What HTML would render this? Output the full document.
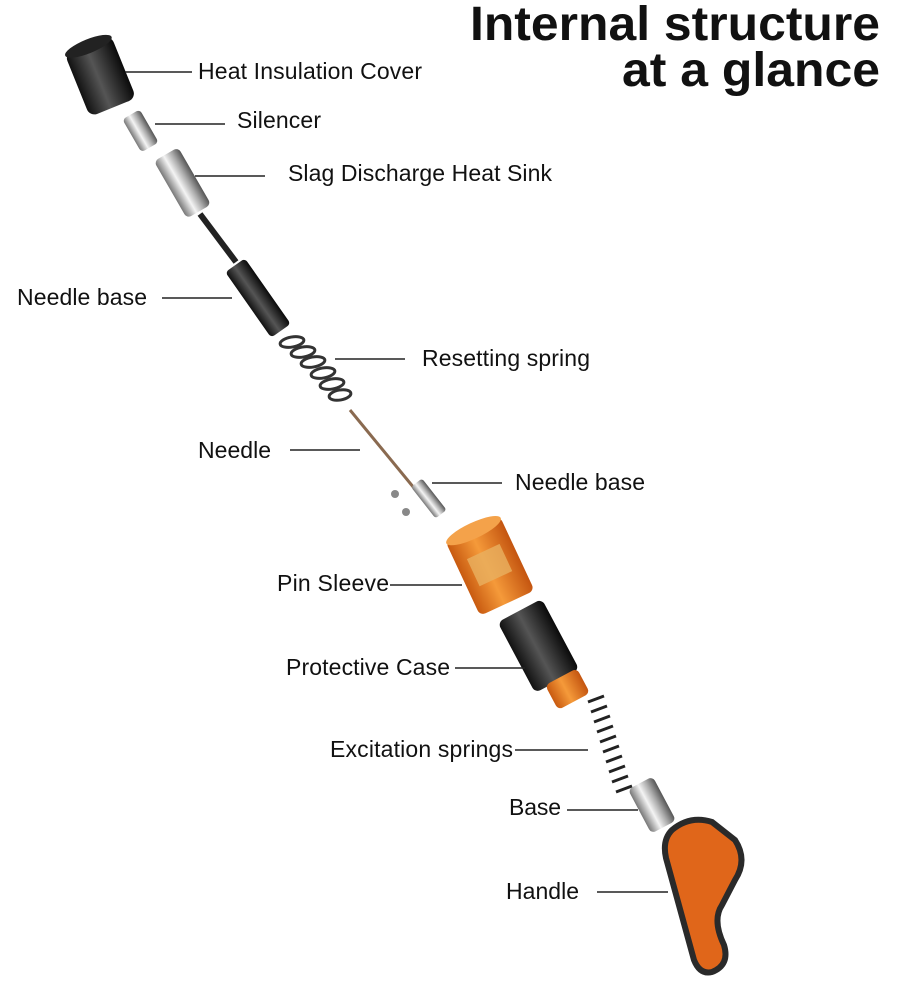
<!DOCTYPE html>
<html><head><meta charset="utf-8"><style>
html,body{margin:0;padding:0;background:#fff;width:900px;height:1000px;overflow:hidden}
svg text{font-family:"Liberation Sans",Arial,sans-serif}
</style></head><body>
<svg width="900" height="1000" viewBox="0 0 900 1000" xmlns="http://www.w3.org/2000/svg">
<defs>
<linearGradient id="blk" x1="0" x2="1"><stop offset="0" stop-color="#111"/><stop offset=".45" stop-color="#555"/><stop offset="1" stop-color="#0a0a0a"/></linearGradient>
<linearGradient id="slv" x1="0" x2="1"><stop offset="0" stop-color="#777"/><stop offset=".4" stop-color="#f4f4f4"/><stop offset=".7" stop-color="#aaa"/><stop offset="1" stop-color="#555"/></linearGradient>
<linearGradient id="org" x1="0" x2="1"><stop offset="0" stop-color="#c85a10"/><stop offset=".45" stop-color="#f59a3a"/><stop offset="1" stop-color="#c45510"/></linearGradient>
</defs>
<text x="470" y="40" textLength="410" lengthAdjust="spacingAndGlyphs" font-size="48" font-weight="bold" fill="#111">Internal structure</text>
<text x="622" y="86" textLength="258" lengthAdjust="spacingAndGlyphs" font-size="48" font-weight="bold" fill="#111">at a glance</text>

<g transform="rotate(-22 100 75)"><rect x="75" y="42" width="50" height="68" rx="8" fill="url(#blk)"/><ellipse cx="100" cy="44" rx="25" ry="7" fill="#222"/></g>
<g transform="rotate(-30 140 130)"><rect x="130" y="112" width="20" height="38" rx="4" fill="url(#slv)"/></g>
<g transform="rotate(-30 182 182)"><rect x="168" y="150" width="28" height="66" rx="5" fill="url(#slv)"/></g>
<line x1="200" y1="214" x2="236" y2="262" stroke="#222" stroke-width="6"/>
<g transform="rotate(-35 258 298)"><rect x="246" y="258" width="24" height="80" rx="4" fill="url(#blk)"/></g>
<g fill="none" stroke="#333" stroke-width="3">
<ellipse cx="292" cy="342" rx="12" ry="5" transform="rotate(-10 292 342)"/>
<ellipse cx="303" cy="352" rx="12" ry="5" transform="rotate(-10 303 352)"/>
<ellipse cx="313" cy="362" rx="12" ry="5" transform="rotate(-10 313 362)"/>
<ellipse cx="323" cy="373" rx="12" ry="5" transform="rotate(-10 323 373)"/>
<ellipse cx="332" cy="384" rx="12" ry="5" transform="rotate(-10 332 384)"/>
<ellipse cx="340" cy="395" rx="11" ry="5" transform="rotate(-10 340 395)"/>
</g>
<line x1="350" y1="410" x2="428" y2="505" stroke="#8a6a50" stroke-width="3"/>
<g transform="rotate(-38 430 500)"><rect x="423" y="478" width="14" height="40" rx="3" fill="url(#slv)"/></g>
<circle cx="395" cy="494" r="4" fill="#888"/><circle cx="406" cy="512" r="4" fill="#888"/>
<g transform="rotate(-25 490 566)"><rect x="460" y="525" width="60" height="82" rx="6" fill="url(#org)"/><ellipse cx="490" cy="527" rx="30" ry="8" fill="#f4a24a"/><rect x="472" y="550" width="36" height="30" fill="#e8b060" opacity=".8"/></g>
<g transform="rotate(-28 538 645)"><rect x="513" y="606" width="50" height="80" rx="6" fill="url(#blk)"/></g>
<g transform="rotate(-28 568 690)"><rect x="550" y="675" width="36" height="28" rx="5" fill="url(#org)"/></g>
<g stroke="#222" stroke-width="3">
<line x1="588" y1="702" x2="604" y2="696"/><line x1="591" y1="712" x2="607" y2="706"/><line x1="594" y1="722" x2="610" y2="716"/><line x1="597" y1="732" x2="613" y2="726"/><line x1="600" y1="742" x2="616" y2="736"/><line x1="603" y1="752" x2="619" y2="746"/><line x1="606" y1="762" x2="622" y2="756"/><line x1="609" y1="772" x2="625" y2="766"/><line x1="612" y1="782" x2="628" y2="776"/><line x1="616" y1="792" x2="632" y2="786"/>
</g>
<g transform="rotate(-28 652 805)"><rect x="638" y="780" width="28" height="50" rx="5" fill="url(#slv)"/></g>
<path d="M672 830 Q690 815 712 822 L735 840 Q748 860 735 880 L722 905 Q712 920 724 945 Q730 965 712 972 Q700 975 694 960 L666 858 Q662 840 672 830 Z" fill="#e0661a" stroke="#2a2a2a" stroke-width="6"/>

<g stroke="#222" stroke-width="1.5">
<line x1="125" y1="72" x2="192" y2="72"/>
<line x1="155" y1="124" x2="225" y2="124"/>
<line x1="195" y1="176" x2="265" y2="176"/>
<line x1="162" y1="298" x2="232" y2="298"/>
<line x1="335" y1="359" x2="405" y2="359"/>
<line x1="290" y1="450" x2="360" y2="450"/>
<line x1="432" y1="483" x2="502" y2="483"/>
<line x1="390" y1="585" x2="462" y2="585"/>
<line x1="455" y1="668" x2="525" y2="668"/>
<line x1="515" y1="750" x2="588" y2="750"/>
<line x1="567" y1="810" x2="638" y2="810"/>
<line x1="597" y1="892" x2="668" y2="892"/>
</g>
<g font-size="23" fill="#111" lengthAdjust="spacingAndGlyphs">
<text x="198" y="79" textLength="224">Heat Insulation Cover</text>
<text x="237" y="128" textLength="84">Silencer</text>
<text x="288" y="181" textLength="264">Slag Discharge Heat Sink</text>
<text x="17" y="305" textLength="130">Needle base</text>
<text x="422" y="366" textLength="168">Resetting spring</text>
<text x="198" y="458" textLength="73">Needle</text>
<text x="515" y="490" textLength="130">Needle base</text>
<text x="277" y="591" textLength="112">Pin Sleeve</text>
<text x="286" y="675" textLength="164">Protective Case</text>
<text x="330" y="757" textLength="183">Excitation springs</text>
<text x="509" y="815" textLength="52">Base</text>
<text x="506" y="899" textLength="73">Handle</text>
</g>
</svg>
</body></html>
